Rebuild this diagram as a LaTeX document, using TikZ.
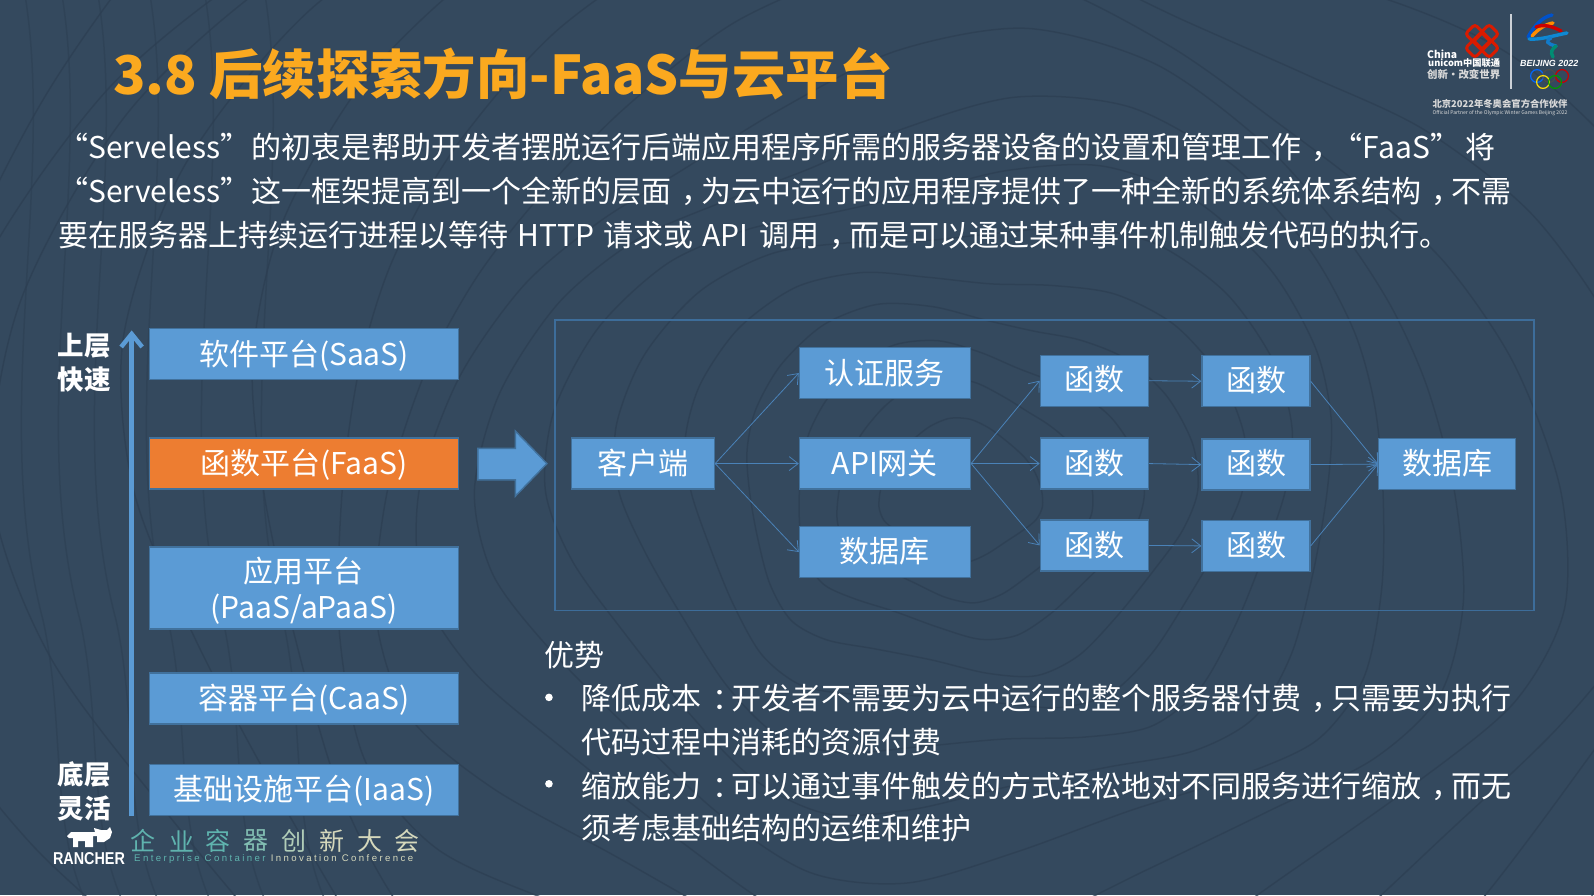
\documentclass[tikz,border=0pt]{standalone}
\usepackage{fontspec}
\setmainfont{Noto Sans CJK SC}
\newfontfamily\latinsans{Liberation Sans}
\usetikzlibrary{arrows.meta,calc}
\definecolor{bgc}{HTML}{34495E}
\definecolor{contour}{HTML}{2D3F53}
\definecolor{boxblue}{HTML}{5B9BD5}
\definecolor{boxedge}{HTML}{41719C}
\definecolor{boxorange}{HTML}{ED7D31}
\definecolor{framec}{HTML}{3D6D9A}
\definecolor{conn}{HTML}{4A82B8}
\definecolor{titlec}{HTML}{FBA91F}
\definecolor{teal1}{HTML}{5FB3AE}
\definecolor{beige1}{HTML}{D5D8BC}
\tikzset{
  boxn/.style={draw=boxedge,fill=boxblue,line width=1.3pt,text=white,font=\fontsize{30}{36}\selectfont,inner sep=0pt,align=center},
  link/.style={draw=conn,line width=0.8pt,-{Straight Barb[length=9pt,width=14pt,line width=0.8pt]}},
  bodyt/.style={text=white,font=\fontsize{30}{36}\selectfont,inner sep=0pt,anchor=base west},
  sidet/.style={text=white,font=\bfseries\fontsize{26.5}{30}\selectfont,inner sep=0pt,anchor=center},
  wavy/.style={draw=contour,line width=1.5pt},
  knot/.style={draw=red!75!orange!85!black,line width=3pt,rounded corners=3pt},
  smallw/.style={text=white,inner sep=0pt,anchor=center},
  ring/.style={line width=1.2pt},
  ribbon/.style={line width=3.4pt,line cap=round},
}
% text moved up by #1 inside its box, the box keeping its size
\newcommand{\tup}[2]{\raisebox{#1}[\height][\depth]{#2}}
\newcommand{\cma}{\kern.33em，\kern-.33em}
\newcommand{\cln}{\kern.35em：\kern-.35em}
\begin{document}
\begin{tikzpicture}
\useasboundingbox (0,0) rectangle (1594pt,-895pt);
\fill[bgc] (0,0) rectangle (1594pt,-895pt);
% background contour lines
\begin{scope}[x=1pt,y=-1pt]
\clip (0,0) rectangle (1594,895);
\foreach \r/\ph in {70/10,110/40,150/80,195/120,240/160,290/200,340/240,395/280,450/320,510/20,575/70,640/130,710/190,790/250,870/310,960/30,1060/100,1160/150,1260/210,1370/270}{
  \draw[wavy,opacity=.75] plot[smooth cycle,samples=26,domain=0:346,variable=\t]
   ({960+1.15*\r*cos(\t)*(1+0.07*sin(3*\t+\ph))},{490+0.95*\r*sin(\t)*(1+0.09*cos(4*\t+\ph))});
}
\foreach \xa/\ph in {25/0,62/50,98/110,150/170,205/230,265/300}{
  \draw[wavy,opacity=.6] (\xa,-5) .. controls (\xa+30,180) and (\xa-35,420) .. (\xa+18,620) .. controls (\xa+40,720) and (\xa+25,820) .. (\xa+60,900);
}
\end{scope}
% title
\node[text=titlec,font=\bfseries\fontsize{53.4}{60}\selectfont,inner sep=0pt,anchor=base west] (title) at (113pt,-94pt) {3.8 后续探索方向-FaaS与云平台};
\begin{scope}[x=1.01658pt,y=-1.01658pt]
% paragraph
\node[bodyt] (p1a) at (57,156) {“Serveless”};
\node[bodyt] (p1b) at (247,156) {的初衷是帮助开发者摆脱运行后端应用程序所需的服务器设备的设置和管理工作\cma};
\node[bodyt] (p1c) at (1311,156) {“FaaS”};
\node[bodyt] (p1d) at (1441,156) {将};
\node[bodyt] (p2a) at (57,199) {“Serveless”};
\node[bodyt] (p2b) at (247,199) {这一框架提高到一个全新的层面\cma 为云中运行的应用程序提供了一种全新的系统体系结构\cma 不需};
\node[bodyt] (p3a) at (57,242) {要在服务器上持续运行进程以等待};
\node[bodyt] (p3b) at (509,242) {HTTP};
\node[bodyt] (p3c) at (593,242) {请求或};
\node[bodyt] (p3d) at (691,242) {API};
\node[bodyt] (p3e) at (747,242) {调用\cma 而是可以通过某种事件机制触发代码的执行。};
% left stack
\coordinate (axbot) at (129.5,803);
\coordinate (axtop) at (129.5,325);
\draw[draw=boxblue,line width=5.5pt,-{Straight Barb[length=13pt,width=21pt,line width=4.5pt]}] (axbot) -- (axtop);
\node[sidet] (sa) at (83,340) {上层};
\node[sidet] (sb) at (83,373) {快速};
\node[sidet] (sc) at (83,762) {底层};
\node[sidet] (sd) at (83,795) {灵活};
\tikzset{stack/.style={boxn,minimum width=309pt}}
\node[stack,minimum height=51pt] (saas) at (299,348.5) {\tup{-1pt}{软件平台(SaaS)}};
\node[stack,minimum height=51pt,fill=boxorange] (faas) at (299,456) {\tup{-1pt}{函数平台(FaaS)}};
\node[stack,minimum height=82pt] (paas) at (299,578.5) {\tup{-3pt}{应用平台}\\\tup{-3pt}{(PaaS/aPaaS)}};
\node[stack,minimum height=51pt] (caas) at (299,687) {\tup{-1pt}{容器平台(CaaS)}};
\node[stack,minimum height=51pt] (iaas) at (299,777) {\tup{-1pt}{基础设施平台(IaaS)}};
% big arrow
\draw[draw=boxedge,fill=boxblue,line width=1.4pt] (470,441) -- (507,441) -- (507,424) -- (538,456) -- (507,488) -- (507,472) -- (470,472) -- cycle;
% frame
\node[draw=framec,line width=1.2pt,minimum width=979pt,minimum height=290pt,inner sep=0pt] (frame) at (1027.5,457.5) {};
% flow nodes
\tikzset{w1/.style={boxn,minimum width=143pt,minimum height=51pt},
 w2/.style={boxn,minimum width=171pt,minimum height=51pt},
 w3/.style={boxn,minimum width=108pt,minimum height=51pt}}
\node[w1] (client) at (632.5,456) {\tup{1pt}{客户端}};
\node[w2] (auth) at (870.5,367) {认证服务};
\node[w2] (api) at (870.5,456) {API网关};
\node[w2] (db1) at (870.5,543) {\tup{1pt}{数据库}};
\node[w3] (f11) at (1076.5,374.5) {\tup{2pt}{函数}};
\node[w3] (f12) at (1076.5,456) {函数};
\node[w3] (f13) at (1076.5,536.5) {函数};
\node[w3] (f21) at (1235.5,375) {\tup{1pt}{函数}};
\node[w3] (f22) at (1235.5,457) {\tup{1pt}{函数}};
\node[w3] (f23) at (1235.5,537) {\tup{1pt}{函数}};
\node[boxn,minimum width=137pt,minimum height=51pt] (db2) at (1423.5,456.5) {\tup{1pt}{数据库}};
\draw[link] (client.east) -- (auth.west);
\draw[link] (client.east) -- (api.west);
\draw[link] (client.east) -- (db1.west);
\draw[link] (api.east) -- (f11.west);
\draw[link] (api.east) -- (f12.west);
\draw[link] (api.east) -- (f13.west);
\draw[link] (f11.east) -- (f21.west);
\draw[link] (f12.east) -- (f22.west);
\draw[link] (f13.east) -- (f23.west);
\draw[link] (f21.east) -- (db2.west);
\draw[link] (f22.east) -- (db2.west);
\draw[link] (f23.east) -- (db2.west);
% advantages
\node[bodyt] (adv) at (535,656) {优势};
\fill[white] (540,686) circle (3.8pt);
\fill[white] (540,771) circle (3.8pt);
\node[bodyt] (a1) at (572,698) {降低成本\cln 开发者不需要为云中运行的整个服务器付费\cma 只需要为执行};
\node[bodyt] (a2) at (572,741) {代码过程中消耗的资源付费};
\node[bodyt] (a3) at (572,784) {缩放能力\cln 可以通过事件触发的方式轻松地对不同服务进行缩放\cma 而无};
\node[bodyt] (a4) at (572,826) {须考虑基础结构的运维和维护};
\end{scope}
% logos, in full pixel coordinates
\begin{scope}[x=1pt,y=-1pt]
% Rancher
\fill[white] (67,836) -- (71,832) -- (95,832) -- (94,828) -- (101,830) -- (107,830) -- (110,827) -- (112,832) -- (110,838) -- (104,842) -- (97,842) -- (97,836) -- (93,836) -- (93,847) -- (85,847) -- (85,841) -- (78,841) -- (78,847) -- (73,847) -- (73,838) -- (69,838) -- cycle;
\node[text=white,inner sep=0pt] (rancher) at (89,859) {\resizebox{72pt}{12pt}{\latinsans\bfseries RANCHER}};
\foreach \c/\xx/\col in {企/143/teal1,业/182/teal1,容/218/teal1,器/256/teal1!70!beige1,创/294/beige1!70!teal1,新/332/beige1,大/370/beige1,会/407/beige1}{
  \node[text=\col,font=\fontsize{25}{28}\selectfont,inner sep=0pt] (h\xx) at (\xx,841) {\c};
}
\node[inner sep=0pt,anchor=west] (ecic) at (134,859) {\resizebox{279pt}{!}{\latinsans\addfontfeature{LetterSpace=25}\textcolor{teal1}{Enterprise Container} \textcolor{beige1}{Innovation Conference}}};
% Unicom
\begin{scope}[shift={(1482,41)},rotate=45,scale=1.12]
\draw[knot] (-15,-6) rectangle (-5,6);
\draw[knot] (5,-6) rectangle (15,6);
\draw[knot] (-6,-15) rectangle (6,-5);
\draw[knot] (-6,5) rectangle (6,15);
\draw[knot] (-6,-6) rectangle (6,6);
\end{scope}
\node[smallw,anchor=west] (chn) at (1427,54) {\resizebox{30pt}{!}{\bfseries China}};
\node[smallw,anchor=west] (uni) at (1428,63) {\resizebox{72pt}{!}{\bfseries unicom中国联通}};
\node[smallw,anchor=west,text=white!85!black] (cx) at (1427,75) {\resizebox{73pt}{!}{\bfseries 创新·改变世界}};
\draw[draw=white!75!bgc,line width=1.5pt] (1511,14) -- (1511,89);
% Beijing emblem
\draw[ribbon,draw=blue!60!cyan!80!black] (1528,37) .. controls (1534,26) and (1542,17) .. (1552,15);
\draw[ribbon,draw=orange!90!yellow] (1532,36) .. controls (1538,29) and (1546,24) .. (1553,23);
\draw[ribbon,draw=red!80!black] (1536,27) .. controls (1543,24) and (1552,26) .. (1561,31);
\draw[ribbon,draw=cyan!70!blue] (1529,39) .. controls (1540,40) and (1552,36) .. (1567,33);
\draw[ribbon,draw=cyan!60!blue] (1551,38) .. controls (1545,41) and (1547,44) .. (1556,46);
\draw[ribbon,draw=green!55!blue] (1556,46) .. controls (1552,49) and (1550,52) .. (1553,57);
\node[smallw,anchor=west] (bj) at (1520,63) {\resizebox{58pt}{!}{\latinsans\bfseries\itshape BEIJING 2022}};
\foreach \n/\cx/\cy/\col in {a/1537/76/blue!60!cyan,b/1549/76/white!30!black,c/1562/76/red!80!black,d/1543/82/yellow!80!orange,e/1555/82/green!60!black}{
  \draw[ring,draw=\col] (\cx,\cy) circle (6.4);
}
\node[smallw,text=white!85!black] (off1) at (1500,104) {\resizebox{135pt}{!}{\bfseries 北京2022年冬奥会官方合作伙伴}};
\node[smallw,text=white!85!black] (off2) at (1500,113) {\resizebox{135pt}{!}{Official Partner of the Olympic Winter Games Beijing 2022}};
\end{scope}
\end{tikzpicture}
\end{document}
